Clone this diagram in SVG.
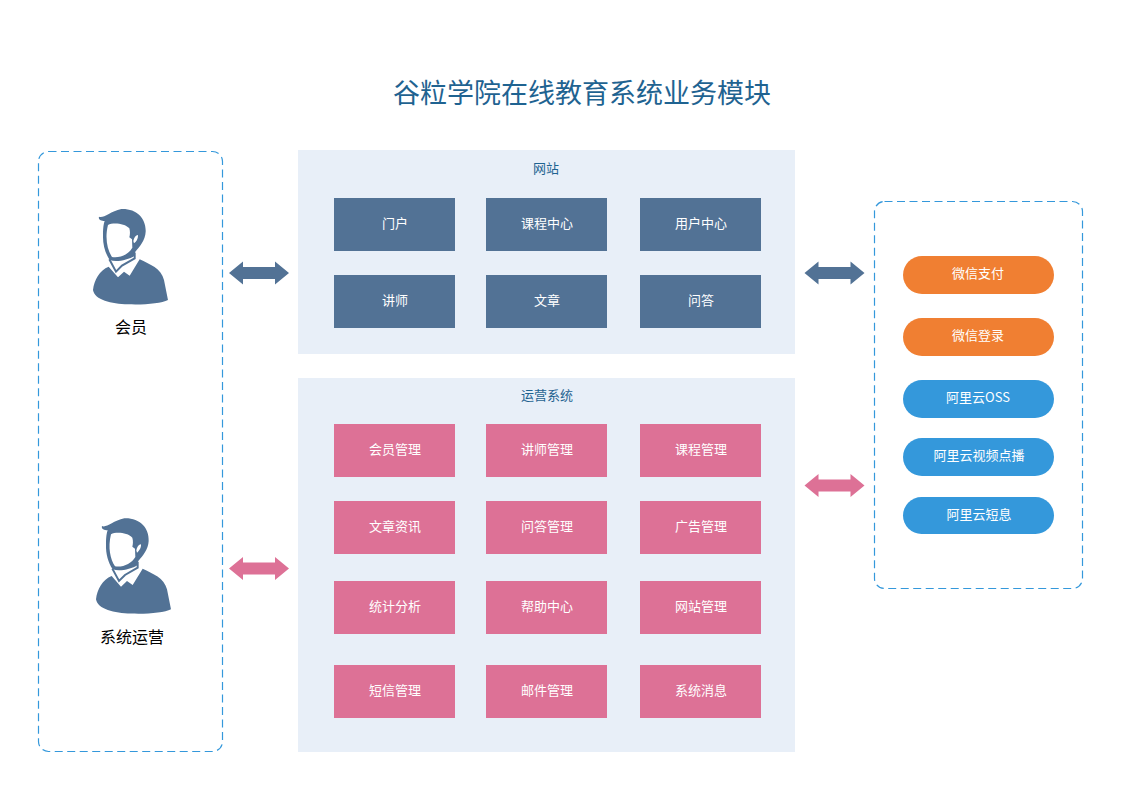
<svg xmlns="http://www.w3.org/2000/svg" width="1123" height="794" viewBox="0 0 1123 794">
<style>
text{font-family:"Noto Sans CJK SC","Liberation Sans",sans-serif;text-anchor:middle;dominant-baseline:central}
.dash{fill:#fff;stroke:#3498db;stroke-width:1.2;stroke-dasharray:8 4.5}
.panel{fill:#e8eff8}
.b{fill:#527295}.p{fill:#dd7196}.o{fill:#f07f32}.c{fill:#3498db}
.t{font-size:13px;fill:#fff}
.h{font-size:13px;fill:#1f6391}
.l{font-size:16px;fill:#000}
</style>
<defs>
<path id="arrow" d="M0,0L14,-11.500V-6H46V-11.500L60,0L46,11.500V6H14V11.500Z"/>
<g id="person" class="b">
<path fill-rule="evenodd" d="M33,35C45,42 65,20 100,12C145,10 175,40 173,80C172,105 155,125 142,140L140,152C120,165 85,172 65,165C52,145 44,120 45,90C45,70 47,55 50,48C40,48 30,44 33,35ZM60,60C75,52 110,55 124,70C127,80 126,90 124,97L132,103L133,128C122,148 95,160 72,156C58,135 50,100 60,60ZM136,108C138,98 143,91 150,90C151,100 145,110 138,115Z"/>
<path d="M15,255C18,225 35,195 62,185L90,217L108,200L125,212L155,163C185,178 220,190 228,225L240,285C220,295 170,300 120,298C70,297 20,285 15,255Z"/>
<path fill="none" stroke="#527295" stroke-width="6" d="M64,163L84,200L102,182L140,160L140,143"/>
</g>
</defs>
<text x="582" y="91" style="font-size:27px;fill:#1f6391">谷粒学院在线教育系统业务模块</text>
<g id="actors-box"><rect class="dash" x="38.500" y="151.500" width="184" height="600" rx="10"/></g>
<g id="services-box"><rect class="dash" x="874.500" y="201.500" width="208" height="387" rx="10"/></g>
<g id="member"><use href="#person" transform="translate(88,205) scale(.3333)"/><text class="l" x="131" y="325.500">会员</text></g>
<g id="operator"><use href="#person" transform="translate(91,514.300) scale(.3333)"/><text class="l" x="132" y="635.500">系统运营</text></g>
<g id="panel-web"><rect class="panel" x="298" y="150" width="497" height="204"/><text class="h" x="546" y="167.500">网站</text></g>
<g id="panel-ops"><rect class="panel" x="298" y="378" width="497" height="374"/><text class="h" x="547" y="394.500">运营系统</text></g>
<g id="n1"><rect class="b" x="334" y="198" width="121" height="53"/><text class="t" x="395" y="222.500">门户</text></g>
<g id="n2"><rect class="b" x="486" y="198" width="121" height="53"/><text class="t" x="547" y="222.500">课程中心</text></g>
<g id="n3"><rect class="b" x="640" y="198" width="121" height="53"/><text class="t" x="701" y="222.500">用户中心</text></g>
<g id="n4"><rect class="b" x="334" y="275" width="121" height="53"/><text class="t" x="395" y="299.500">讲师</text></g>
<g id="n5"><rect class="b" x="486" y="275" width="121" height="53"/><text class="t" x="547" y="299.500">文章</text></g>
<g id="n6"><rect class="b" x="640" y="275" width="121" height="53"/><text class="t" x="701" y="299.500">问答</text></g>
<g id="n7"><rect class="p" x="334" y="424" width="121" height="53"/><text class="t" x="395" y="448.500">会员管理</text></g>
<g id="n8"><rect class="p" x="486" y="424" width="121" height="53"/><text class="t" x="547" y="448.500">讲师管理</text></g>
<g id="n9"><rect class="p" x="640" y="424" width="121" height="53"/><text class="t" x="701" y="448.500">课程管理</text></g>
<g id="n10"><rect class="p" x="334" y="501" width="121" height="53"/><text class="t" x="395" y="525.500">文章资讯</text></g>
<g id="n11"><rect class="p" x="486" y="501" width="121" height="53"/><text class="t" x="547" y="525.500">问答管理</text></g>
<g id="n12"><rect class="p" x="640" y="501" width="121" height="53"/><text class="t" x="701" y="525.500">广告管理</text></g>
<g id="n13"><rect class="p" x="334" y="581" width="121" height="53"/><text class="t" x="395" y="605.500">统计分析</text></g>
<g id="n14"><rect class="p" x="486" y="581" width="121" height="53"/><text class="t" x="547" y="605.500">帮助中心</text></g>
<g id="n15"><rect class="p" x="640" y="581" width="121" height="53"/><text class="t" x="701" y="605.500">网站管理</text></g>
<g id="n16"><rect class="p" x="334" y="665" width="121" height="53"/><text class="t" x="395" y="689.500">短信管理</text></g>
<g id="n17"><rect class="p" x="486" y="665" width="121" height="53"/><text class="t" x="547" y="689.500">邮件管理</text></g>
<g id="n18"><rect class="p" x="640" y="665" width="121" height="53"/><text class="t" x="701" y="689.500">系统消息</text></g>
<g id="s1"><rect class="o" x="903" y="256" width="151" height="38" rx="19"/><text class="t" x="978" y="272.500">微信支付</text></g>
<g id="s2"><rect class="o" x="903" y="318" width="151" height="38" rx="19"/><text class="t" x="978" y="334.500">微信登录</text></g>
<g id="s3"><rect class="c" x="903" y="380" width="151" height="38" rx="19"/><text class="t" x="978" y="396.500">阿里云OSS</text></g>
<g id="s4"><rect class="c" x="903" y="438" width="151" height="38" rx="19"/><text class="t" x="979" y="454.500">阿里云视频点播</text></g>
<g id="s5"><rect class="c" x="903" y="497" width="151" height="37" rx="18.500"/><text class="t" x="979" y="513.500">阿里云短息</text></g>
<g id="connectors">
<use href="#arrow" class="b" x="229" y="273"/>
<use href="#arrow" class="b" x="804.500" y="273"/>
<use href="#arrow" class="p" x="229" y="568.500"/>
<use href="#arrow" class="p" x="804.500" y="485.500"/>
</g>
</svg>
